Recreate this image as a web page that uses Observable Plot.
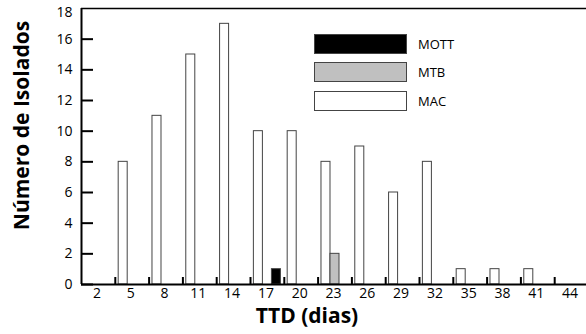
<!DOCTYPE html>
<html><head><meta charset="utf-8">
<script src="https://cdn.jsdelivr.net/npm/d3@7"></script>
<script src="https://cdn.jsdelivr.net/npm/@observablehq/plot@0.6"></script>
<style>
body{margin:0;background:#fff;font-family:"Open Sans",sans-serif;}
#wrap{position:relative;width:586px;height:334px;overflow:hidden}
.legend{position:absolute;left:314px;top:34px;}
.item{display:flex;align-items:center;height:20px;margin-bottom:8.4px}
.sw{width:91px;height:18px;border:1px solid #444;margin-right:11px;box-sizing:content-box}
.lab{font-size:13px;color:#000;line-height:20px}
</style></head><body><div id="wrap"></div>
<script>
const ttd = [2, 5, 8, 11, 14, 17, 20, 23, 26, 29, 32, 35, 38, 41, 44];
const mac = [0, 8, 11, 15, 17, 10, 10, 8, 9, 6, 8, 1, 1, 1, 0];
const mtb = [0, 0, 0, 0, 0, 0, 0, 2, 0, 0, 0, 0, 0, 0, 0];
const mott = [0, 0, 0, 0, 0, 1, 0, 0, 0, 0, 0, 0, 0, 0, 0];
const seriesNames = ["MAC", "MTB", "MOTT"];
const seriesColors = ["#ffffff", "#c0c0c0", "#000000"];
const legendOrder = ["MOTT", "MTB", "MAC"];
const yTicks = [0, 2, 4, 6, 8, 10, 12, 14, 16, 18];
const xLabel = "TTD (dias)";
const yLabel = "Número de Isolados";

const series = [mac, mtb, mott];
const rows = [];
ttd.forEach((t, i) => {
  series.forEach((arr, j) => {
    if (arr[i] > 0) rows.push({ttd: t, series: seriesNames[j], slot: j, count: arr[i]});
  });
});
const binHalf = 1.5;   // each TTD class spans 3 days
const barW = 0.8;      // bar width in days
const bounds = ttd.slice(1).map(t => t - binHalf);

const chart = Plot.plot({
  width: 586, height: 334,
  marginLeft: 81, marginRight: -2, marginTop: 8, marginBottom: 50,
  x: {domain: [ttd[0] - binHalf, ttd[ttd.length - 1] + binHalf], label: null},
  y: {domain: [0, 18], label: null},
  color: {domain: seriesNames, range: seriesColors},
  style: {fontFamily: "'Open Sans', sans-serif", fontSize: "14px", color: "#000", background: "#fff", overflow: "visible"},
  marks: [
    Plot.rectY(rows, {
      x1: d => d.ttd - barW * 1.5 + d.slot * barW,
      x2: d => d.ttd - barW * 0.5 + d.slot * barW,
      y1: 0, y2: "count",
      fill: "series", stroke: "#444", strokeWidth: 1
    }),
    Plot.ruleY([0], {stroke: "#000", strokeWidth: 2}),
    Plot.ruleY([18], {stroke: "#000", strokeWidth: 1.5}),
    Plot.ruleX([ttd[0] - binHalf], {stroke: "#000", strokeWidth: 2}),
    Plot.ruleX(bounds, {y1: 0, y2: 0, insetTop: -7, stroke: "#000", strokeWidth: 2}),
    Plot.ruleY(yTicks.slice(0, -1), {x1: ttd[0] - binHalf, x2: ttd[0] - binHalf, insetRight: -12, stroke: "#000", strokeWidth: 2}),
    Plot.axisX(ttd, {tickSize: 0, tickPadding: 4, dx: -1.5, fontSize: 14}),
    Plot.axisY(yTicks.slice(0, -1), {tickSize: 0, tickPadding: 9, fontSize: 14}),
    Plot.axisY(yTicks.slice(-1), {tickSize: 0, tickPadding: 9, dy: 4, fontSize: 14}),
    Plot.text([yLabel], {frameAnchor: "left", textAnchor: "middle", rotate: -90, dx: -59, dy: -21, fontSize: 21, fontWeight: "bold"}),
    Plot.text([xLabel], {frameAnchor: "bottom", textAnchor: "middle", dx: -28, dy: 38, fontSize: 21, fontWeight: "bold"})
  ]
});
const wrap = document.getElementById("wrap");
wrap.appendChild(chart);

const legend = document.createElement("div");
legend.className = "legend";
legendOrder.forEach(name => {
  const it = document.createElement("div");
  it.className = "item";
  const sw = document.createElement("div");
  sw.className = "sw";
  sw.style.background = seriesColors[seriesNames.indexOf(name)];
  const lab = document.createElement("span");
  lab.className = "lab";
  lab.textContent = name;
  it.appendChild(sw); it.appendChild(lab);
  legend.appendChild(it);
});
wrap.appendChild(legend);
</script></body></html>
